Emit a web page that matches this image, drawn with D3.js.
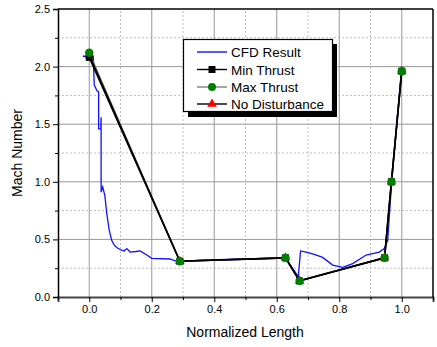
<!DOCTYPE html>
<html>
<head>
<meta charset="utf-8">
<script src="https://cdn.jsdelivr.net/npm/d3@7"></script>
<style>
  body { margin: 0; background: #fff; }
  text { font-family: "Liberation Sans", Arial, sans-serif; }
</style>
</head>
<body>
<div id="chart"></div>
<script>
// probe positions along the duct
const probeX = [0.0, 0.29, 0.628, 0.673, 0.945, 0.967, 1.0];
const minThrust = [2.08, 0.31, 0.34, 0.14, 0.34, 1.0, 1.96];
const maxThrust = [2.12, 0.31, 0.34, 0.14, 0.34, 1.0, 1.96];
const noDisturbance = [2.10, 0.31, 0.34, 0.14, 0.34, 1.0, 1.96];

// CFD trace
const cfdX = [-0.021, 0.013, 0.016, 0.025, 0.030, 0.030, 0.037, 0.038, 0.038, 0.043, 0.050, 0.056, 0.064, 0.072, 0.080, 0.088,
  0.100, 0.112, 0.120, 0.131, 0.150, 0.163, 0.184, 0.200, 0.258, 0.280, 0.300, 0.354, 0.500, 0.628,
  0.669, 0.676, 0.694, 0.720, 0.747, 0.779, 0.811, 0.843, 0.886, 0.928, 0.944, 0.955, 0.966, 0.971, 1.0];
const cfdY = [2.09, 2.09, 1.84, 1.79, 1.78, 1.46, 1.46, 1.56, 0.91, 0.956, 0.88, 0.725, 0.58, 0.49, 0.45, 0.43,
  0.41, 0.40, 0.42, 0.39, 0.395, 0.40, 0.364, 0.335, 0.33, 0.31, 0.31, 0.32, 0.33, 0.34,
  0.176, 0.40, 0.39, 0.37, 0.344, 0.277, 0.257, 0.29, 0.364, 0.39, 0.42, 0.49, 0.93, 1.1, 2.0];

const xMajor = [0.0, 0.2, 0.4, 0.6, 0.8, 1.0];
const xMinor = [0.1, 0.3, 0.5, 0.7, 0.9];
const yMajor = [0.0, 0.5, 1.0, 1.5, 2.0, 2.5];
const yMinor = [0.25, 0.75, 1.25, 1.75, 2.25];

const legendItems = ["CFD Result", "Min Thrust", "Max Thrust", "No Disturbance"];

const width = 437, height = 347;
const svg = d3.select("#chart").append("svg")
  .attr("width", width).attr("height", height);

const x = d3.scaleLinear().domain([-0.1, 1.1]).range([58, 433]);
const y = d3.scaleLinear().domain([0, 2.5]).range([297, 9]);

// grid
svg.append("g").selectAll("line").data(xMinor).join("line")
  .attr("x1", d => x(d)).attr("x2", d => x(d)).attr("y1", y(0)).attr("y2", y(2.5))
  .attr("stroke", "#bdbdbd").attr("stroke-dasharray", "2,2");
svg.append("g").selectAll("line").data(yMinor).join("line")
  .attr("x1", x(-0.1)).attr("x2", x(1.1)).attr("y1", d => y(d)).attr("y2", d => y(d))
  .attr("stroke", "#bdbdbd").attr("stroke-dasharray", "2,2");
svg.append("g").selectAll("line").data(xMajor).join("line")
  .attr("x1", d => x(d)).attr("x2", d => x(d)).attr("y1", y(0)).attr("y2", y(2.5))
  .attr("stroke", "#999");
svg.append("g").selectAll("line").data(yMajor.slice(1, 5)).join("line")
  .attr("x1", x(-0.1)).attr("x2", x(1.1)).attr("y1", d => y(d)).attr("y2", d => y(d))
  .attr("stroke", "#999");

// axes
const xAxis = svg.append("g").attr("transform", `translate(0,${y(0)})`)
  .call(d3.axisBottom(x).tickValues(xMajor).tickFormat(d3.format(".1f")).tickSize(5).tickPadding(3));
svg.append("g").attr("transform", `translate(0,${y(0)})`)
  .call(d3.axisBottom(x).tickValues([-0.1].concat(xMinor, [1.1])).tickFormat("").tickSize(3))
  .select(".domain").remove();
const yAxis = svg.append("g").attr("transform", `translate(${x(-0.1)},0)`)
  .call(d3.axisLeft(y).tickValues(yMajor).tickFormat(d3.format(".1f")).tickSize(5).tickPadding(3));
svg.append("g").attr("transform", `translate(${x(-0.1)},0)`)
  .call(d3.axisLeft(y).tickValues(yMinor).tickFormat("").tickSize(3))
  .select(".domain").remove();

svg.selectAll(".tick text").attr("font-size", 11).attr("fill", "#000")
  .style("font-family", "'Liberation Sans', Arial, sans-serif");
svg.selectAll(".tick line").attr("stroke", "#000");
xAxis.select(".domain").attr("stroke", "#444").attr("stroke-width", 2);
yAxis.select(".domain").attr("stroke", "#000").attr("stroke-width", 1.5);

// top/right frame
svg.append("line").attr("x1", x(-0.1)).attr("x2", x(1.1)).attr("y1", y(2.5)).attr("y2", y(2.5))
  .attr("stroke", "#000").attr("stroke-width", 1.5);
svg.append("line").attr("x1", x(1.1)).attr("x2", x(1.1)).attr("y1", y(2.5)).attr("y2", y(0))
  .attr("stroke", "#000").attr("stroke-width", 1.5);

// CFD line
const cfd = cfdX.map((d, i) => [d, cfdY[i]]);
svg.append("path").datum(cfd)
  .attr("d", d3.line().x(d => x(d[0])).y(d => y(d[1])))
  .attr("fill", "none").attr("stroke", "#1010ff").attr("stroke-width", 1.3);

// series lines
const lineGen = d3.line().x(d => x(d[0])).y(d => y(d[1]));
const series = [
  { vals: maxThrust, line: "#808080" },
  { vals: noDisturbance, line: "#000" },
  { vals: minThrust, line: "#000" }
];
series.forEach(s => {
  svg.append("path").datum(probeX.map((d, i) => [d, s.vals[i]]))
    .attr("d", lineGen).attr("fill", "none").attr("stroke", s.line).attr("stroke-width", 1.6);
});

// markers
const tri = d3.symbol().type(d3.symbolTriangle).size(40);
svg.append("g").selectAll("path").data(probeX.map((d, i) => [d, noDisturbance[i]])).join("path")
  .attr("d", tri).attr("transform", d => `translate(${x(d[0])},${y(d[1])})`).attr("fill", "#ff0000");
svg.append("g").selectAll("rect").data(probeX.map((d, i) => [d, minThrust[i]])).join("rect")
  .attr("x", d => x(d[0]) - 3.5).attr("y", d => y(d[1]) - 3.5)
  .attr("width", 7).attr("height", 7).attr("fill", "#000");
svg.append("g").selectAll("circle").data(probeX.map((d, i) => [d, maxThrust[i]])).join("circle")
  .attr("cx", d => x(d[0])).attr("cy", d => y(d[1])).attr("r", 4.2).attr("fill", "#008000");

// axis titles
svg.append("text").attr("x", 245).attr("y", 337).attr("text-anchor", "middle")
  .attr("font-size", 14).text("Normalized Length");
svg.append("text").attr("transform", "translate(22,153) rotate(-90)").attr("text-anchor", "middle")
  .attr("font-size", 14).text("Mach Number");

// legend
const lg = svg.append("g");
lg.append("rect").attr("x", 188).attr("y", 44).attr("width", 149).attr("height", 73).attr("fill", "#000");
lg.append("rect").attr("x", 183.5).attr("y", 39.5).attr("width", 149).attr("height", 72)
  .attr("fill", "#fff").attr("stroke", "#000").attr("stroke-width", 1.2);
const rowY = [52, 69.5, 87, 104];
const lineCol = ["#1010ff", "#000", "#808080", "#000"];
legendItems.forEach((t, i) => {
  lg.append("line").attr("x1", 197).attr("x2", 227).attr("y1", rowY[i]).attr("y2", rowY[i])
    .attr("stroke", lineCol[i]).attr("stroke-width", 1.4);
  lg.append("text").attr("x", 231).attr("y", rowY[i] + 5).attr("font-size", 13.5).text(t);
});
lg.append("rect").attr("x", 208.5).attr("y", rowY[1] - 3.5).attr("width", 7).attr("height", 7).attr("fill", "#000");
lg.append("circle").attr("cx", 212).attr("cy", rowY[2]).attr("r", 4).attr("fill", "#008000");
lg.append("path").attr("d", tri).attr("transform", `translate(212,${rowY[3]})`).attr("fill", "#ff0000");
</script>
</body>
</html>
